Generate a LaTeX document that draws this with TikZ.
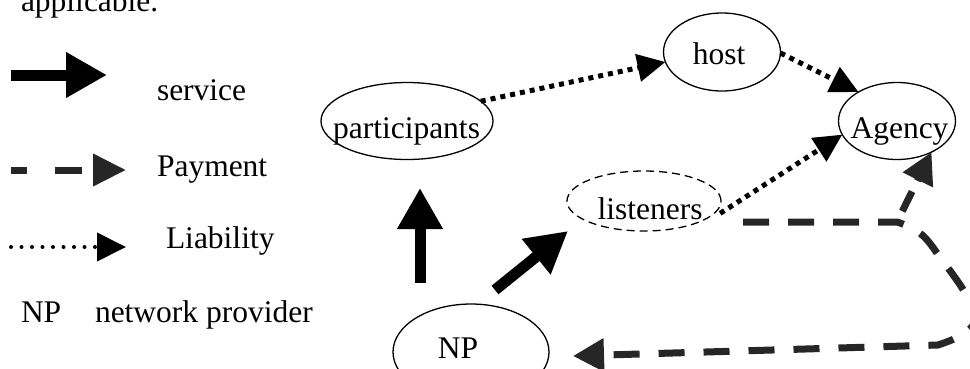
\documentclass[tikz,border=0pt]{standalone}
\usepackage{fontspec}
\setmainfont{Liberation Serif}
\usetikzlibrary{arrows.meta,shapes.geometric}
\definecolor{paygray}{HTML}{262626}
\begin{document}
\begin{tikzpicture}[x=1pt,y=-1pt,
  every node/.style={font=\fontsize{31.5}{36}\selectfont, inner sep=0pt, outer sep=0pt},
  txt/.style={anchor=base west},
  ctxt/.style={anchor=base},
  actor/.style={draw, ellipse, line width=1.3pt},
  guest/.style={actor, dash pattern=on 8pt off 5pt},
  service/.style={line width=11pt, -{Triangle[length=41pt,width=43pt]}},
  payment/.style={draw=paygray, line width=7pt, dash pattern=on 26pt off 19pt,
    -{Triangle[length=31pt,width=32pt]}},
  liability/.style={line width=5pt, dash pattern=on 5pt off 5pt,
    -{Triangle[length=28pt,width=27pt]}},
  legdots/.style={line width=4pt, line cap=round, dash pattern=on 0pt off 10.5pt,
    -{Triangle[length=29pt,width=28pt]}}
]
\clip (0,0) rectangle (970,368);

% heading line (cut at the top)
\node[txt] (head) at (21,11) {applicable.};

% legend
\coordinate (ls1) at (11,75);
\coordinate (ls2) at (107,75);
\draw[service] (ls1) -- (ls2);
\node[txt] (lservice) at (157,100) {service};

\coordinate (lp1) at (11,170);
\coordinate (lp2) at (126,170);
\draw[payment, dash pattern=on 16pt off 28pt on 27pt off 30pt,
  -{Triangle[length=33pt,width=31pt]}] (lp1) -- (lp2);
\node[txt] (lpayment) at (157,176) {Payment};

\coordinate (ll1) at (11,247);
\coordinate (ll2) at (126,247);
\draw[legdots] (ll1) -- (ll2);
\node[txt] (lliab) at (166,248) {Liability};

\node[txt] (lnp) at (21,322) {NP};
\node[txt] (lnpdesc) at (95,322) {network provider};

% actors
\node[actor, minimum width=172pt, minimum height=77pt] (part) at (407,121) {};
\node[ctxt] (partlbl) at (406.5,138) {participants};
\node[actor, minimum width=117pt, minimum height=78pt] (host) at (722,52) {};
\node[ctxt] (hostlbl) at (719,64) {host};
\node[actor, minimum width=117pt, minimum height=77pt] (ag) at (897,121) {};
\node[ctxt] (aglbl) at (899.5,138) {Agency};
\node[guest, minimum width=154pt, minimum height=60pt] (list) at (644,201) {};
\node[ctxt] (listlbl) at (650,219) {listeners};
\node[actor, minimum width=156pt, minimum height=96pt] (np) at (471,352) {};
\node[ctxt] (nplbl) at (458,358) {NP};

% service flows from the network provider
\coordinate (s1a) at (420,283);
\coordinate (s1b) at (420,188);
\draw[service] (s1a) -- (s1b);
\coordinate (s2a) at (495,290);
\coordinate (s2b) at (568,231);
\draw[service] (s2a) -- (s2b);

% liability
\draw[liability] (part.15) -- (host.190);
\draw[liability] (host.-1) -- (ag.143);
\draw[liability] ([xshift=6pt]list.-10) -- (ag.194);

% payment
\coordinate (p0) at (743,222);
\coordinate (pj) at (897,222);
\coordinate (pend) at (573,356);
\draw[payment] (p0) -- plot[smooth, tension=0.7] coordinates
  {(pj) (921,234) (942,260) (964,291) (976,315) (965,333) (938,345)} -- (pend);
\draw[payment, dash pattern=on 22pt off 12pt, dash phase=22pt] (pj) -- (ag.-42);
\end{tikzpicture}
\end{document}
